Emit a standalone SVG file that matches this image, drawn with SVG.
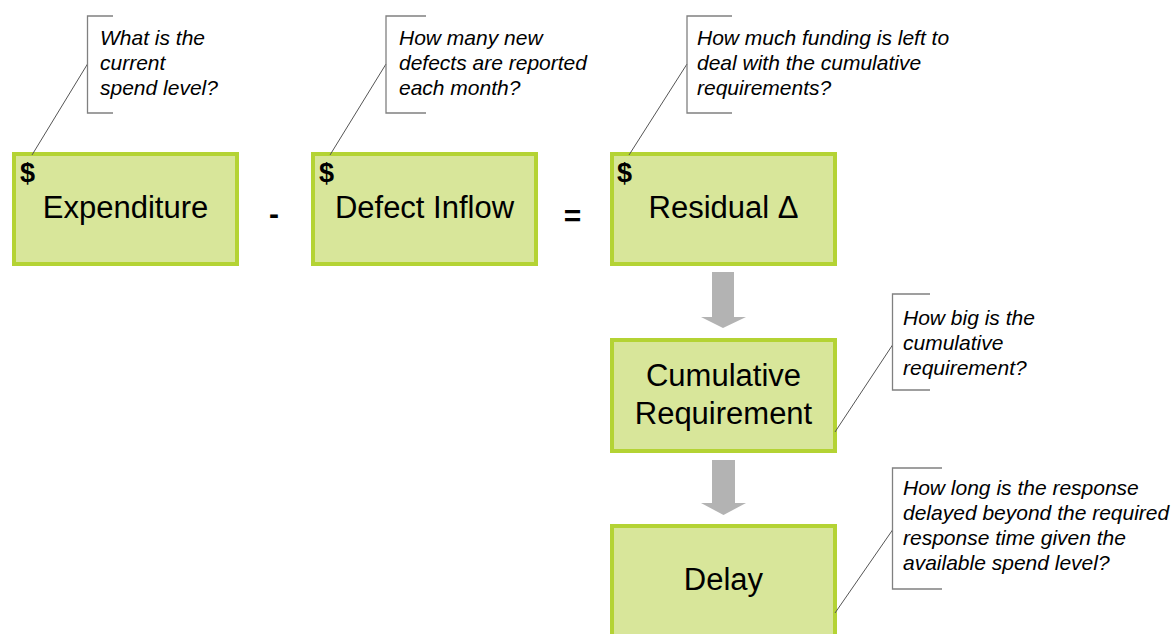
<svg xmlns="http://www.w3.org/2000/svg" width="1173" height="634" viewBox="0 0 1173 634">
  <style>
    .box { fill: #d8e69a; stroke: #b4d334; stroke-width: 4; }
    .label { font-family: "Liberation Sans", Arial, sans-serif; font-size: 31px; fill: #000; text-anchor: middle; }
    .dollar { font-family: "Liberation Sans", Arial, sans-serif; font-size: 27px; font-weight: bold; fill: #000; }
    .op { font-family: "Liberation Sans", Arial, sans-serif; font-size: 30px; font-weight: bold; fill: #000; text-anchor: middle; }
    .note { font-family: "Liberation Sans", Arial, sans-serif; font-size: 21px; font-style: italic; fill: #000; }
    .bracket { fill: none; stroke: #808080; stroke-width: 1.3; }
    .leader { fill: none; stroke: #555; stroke-width: 1; }
    .flow { fill: #b3b3b3; }
  </style>

  <!-- top row: Expenditure - Defect Inflow = Residual -->
  <g id="expenditure">
    <rect class="box" x="14" y="154" width="223" height="110"/>
    <text class="dollar" x="20" y="182">$</text>
    <text class="label" x="125.5" y="218">Expenditure</text>
  </g>
  <g id="defect-inflow">
    <rect class="box" x="313" y="154" width="223" height="110"/>
    <text class="dollar" x="319" y="182">$</text>
    <text class="label" x="424.5" y="218">Defect Inflow</text>
  </g>
  <g id="residual">
    <rect class="box" x="612" y="154" width="223" height="110"/>
    <text class="dollar" x="617" y="182">$</text>
    <text class="label" x="723.5" y="218">Residual Δ</text>
  </g>

  <!-- operators between the boxes -->
  <text class="op" x="274" y="224">-</text>
  <text class="op" x="572.5" y="226">=</text>

  <!-- vertical chain -->
  <g id="cumulative-requirement">
    <rect class="box" x="612" y="340" width="223" height="111"/>
    <text class="label" x="723.5" y="386">Cumulative</text>
    <text class="label" x="723.5" y="424">Requirement</text>
  </g>
  <g id="delay">
    <rect class="box" x="612" y="526" width="223" height="112"/>
    <text class="label" x="723.5" y="590">Delay</text>
  </g>

  <!-- connectors: block arrows and callout leaders -->
  <g id="connectors">
    <polygon class="flow" points="712,272 734,272 734,317 746,317 723,328 701,317 712,317"/>
    <polygon class="flow" points="712,460 735,460 735,503 746,503 723.5,515 701,503 712,503"/>

    <line class="leader" x1="87.5" y1="64" x2="32" y2="155"/>
    <line class="leader" x1="386" y1="64" x2="330" y2="155"/>
    <line class="leader" x1="687" y1="64" x2="629" y2="155"/>
    <line class="leader" x1="892.5" y1="345" x2="835" y2="432"/>
    <line class="leader" x1="892.5" y1="530" x2="835" y2="613"/>
  </g>

  <!-- callouts -->
  <g id="note-spend">
    <polyline class="bracket" points="113,16 87.5,16 87.5,113 113,113"/>
    <text class="note" x="100" y="45">What is the</text>
    <text class="note" x="100" y="70">current</text>
    <text class="note" x="100" y="95">spend level?</text>
  </g>
  <g id="note-defects">
    <polyline class="bracket" points="426,16 386,16 386,113 426,113"/>
    <text class="note" x="399" y="45">How many new</text>
    <text class="note" x="399" y="70">defects are reported</text>
    <text class="note" x="399" y="95">each month?</text>
  </g>
  <g id="note-funding">
    <polyline class="bracket" points="732,16 687,16 687,113 732,113"/>
    <text class="note" x="697" y="45">How much funding is left to</text>
    <text class="note" x="697" y="70">deal with the cumulative</text>
    <text class="note" x="697" y="95">requirements?</text>
  </g>
  <g id="note-requirement">
    <polyline class="bracket" points="930,294 892.5,294 892.5,390 930,390"/>
    <text class="note" x="903" y="325">How big is the</text>
    <text class="note" x="903" y="350">cumulative</text>
    <text class="note" x="903" y="375">requirement?</text>
  </g>
  <g id="note-delay">
    <polyline class="bracket" points="942,468 892.5,468 892.5,589 942,589"/>
    <text class="note" x="903" y="495">How long is the response</text>
    <text class="note" x="903" y="520">delayed beyond the required</text>
    <text class="note" x="903" y="545">response time given the</text>
    <text class="note" x="903" y="570">available spend level?</text>
  </g>
</svg>
